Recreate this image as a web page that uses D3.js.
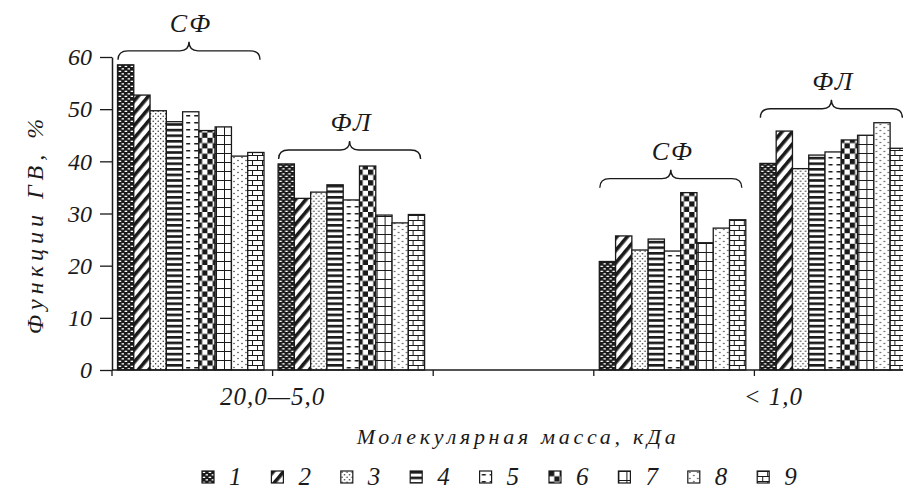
<!DOCTYPE html>
<html>
<head>
<meta charset="utf-8">
<script src="https://cdn.jsdelivr.net/npm/d3@7"></script>
<style>
  html, body { margin: 0; padding: 0; background: #fff; }
  svg { display: block; }
  text { font-family: "Liberation Serif", "Times New Roman", Times; font-style: italic; fill: #1a1a1a; }
</style>
</head>
<body>
<svg id="chart" width="903" height="489"></svg>
<script>
// Series (samples 1–9) and the two fractions per molecular-mass range
const seriesNames = ["1", "2", "3", "4", "5", "6", "7", "8", "9"];
const fractionNames = ["СФ", "ФЛ"];
const massLabels = ["20,0—5,0", "< 1,0"];

// Share of humic substances, %
const sf_20_5 = [58.5, 52.7, 49.7, 47.6, 49.5, 45.9, 46.6, 41.0, 41.7];
const fl_20_5 = [39.5, 32.9, 34.1, 35.5, 32.6, 39.1, 29.7, 28.2, 29.8];
const sf_lt1  = [20.8, 25.7, 23.0, 25.1, 22.8, 34.0, 24.4, 27.2, 28.8];
const fl_lt1  = [39.6, 45.8, 38.6, 41.2, 41.8, 44.1, 45.0, 47.4, 42.5];

const yTicks = [0, 10, 20, 30, 40, 50, 60];
const yTitle = "Функции ГВ, %";
const xTitle = "Молекулярная масса, кДа";

// Five slots along the x axis: two per mass range with an empty slot between
const groups = [
  { slot: 0, mass: 0, frac: 0, values: sf_20_5 },
  { slot: 1, mass: 0, frac: 1, values: fl_20_5 },
  { slot: 3, mass: 1, frac: 0, values: sf_lt1 },
  { slot: 4, mass: 1, frac: 1, values: fl_lt1 }
];

const svg = d3.select("#chart");
const ink = "#1a1a1a";
const serifFont = '"Liberation Serif", "Times New Roman", Times';

// ---- fill patterns ----
const defs = svg.append("defs");
function pat(id, w, h, build, transform) {
  const p = defs.append("pattern").attr("id", id)
    .attr("patternUnits", "userSpaceOnUse").attr("width", w).attr("height", h);
  if (transform) p.attr("patternTransform", transform);
  build(p);
}
// 1: dark with small light dashes
pat("p1", 6, 5, p => {
  p.append("rect").attr("width", 6).attr("height", 5).attr("fill", ink);
  p.append("rect").attr("x", 0.6).attr("y", 0.7).attr("width", 2.6).attr("height", 1.3).attr("fill", "#fff");
  p.append("rect").attr("x", 3.6).attr("y", 3.2).attr("width", 2.6).attr("height", 1.3).attr("fill", "#fff");
});
// 2: wide upward diagonal
pat("p2", 8, 8, p => {
  p.append("rect").attr("width", 8).attr("height", 8).attr("fill", "#fff");
  p.append("rect").attr("width", 3.6).attr("height", 8).attr("fill", ink);
}, "rotate(40)");
// 3: scattered dots
pat("p3", 5, 5, p => {
  p.append("rect").attr("width", 5).attr("height", 5).attr("fill", "#fff");
  p.append("circle").attr("cx", 1.2).attr("cy", 1.2).attr("r", 0.7).attr("fill", ink);
  p.append("circle").attr("cx", 3.7).attr("cy", 3.7).attr("r", 0.7).attr("fill", ink);
});
// 4: wide horizontal lines
pat("p4", 6, 5.6, p => {
  p.append("rect").attr("width", 6).attr("height", 5.6).attr("fill", "#fff");
  p.append("rect").attr("y", 0).attr("width", 6).attr("height", 2.6).attr("fill", ink);
});
// 5: short horizontal dashes
pat("p5", 8, 7, p => {
  p.append("rect").attr("width", 8).attr("height", 7).attr("fill", "#fff");
  p.append("rect").attr("x", 2.2).attr("y", 3).attr("width", 4).attr("height", 1.5).attr("fill", ink);
});
// 6: large checkerboard
pat("p6", 10.6, 10.6, p => {
  p.append("rect").attr("width", 10.6).attr("height", 10.6).attr("fill", "#fff");
  p.append("rect").attr("width", 5.3).attr("height", 5.3).attr("fill", ink);
  p.append("rect").attr("x", 5.3).attr("y", 5.3).attr("width", 5.3).attr("height", 5.3).attr("fill", ink);
});
// 7: large grid
pat("p7", 8, 9, p => {
  p.append("rect").attr("width", 8).attr("height", 9).attr("fill", "#fff");
  p.append("rect").attr("x", 0).attr("width", 1).attr("height", 9).attr("fill", ink);
  p.append("rect").attr("y", 0).attr("width", 8).attr("height", 1).attr("fill", ink);
});
// 8: sparse dots
pat("p8", 8, 6, p => {
  p.append("rect").attr("width", 8).attr("height", 6).attr("fill", "#fff");
  p.append("circle").attr("cx", 2).attr("cy", 1.5).attr("r", 0.7).attr("fill", ink);
  p.append("circle").attr("cx", 6).attr("cy", 4.5).attr("r", 0.7).attr("fill", ink);
});
// 9: horizontal bricks
pat("p9", 10, 10, p => {
  p.append("rect").attr("width", 10).attr("height", 10).attr("fill", "#fff");
  p.append("rect").attr("y", 0).attr("width", 10).attr("height", 1).attr("fill", ink);
  p.append("rect").attr("y", 5).attr("width", 10).attr("height", 1).attr("fill", ink);
  p.append("rect").attr("x", 0).attr("y", 0).attr("width", 1).attr("height", 5).attr("fill", ink);
  p.append("rect").attr("x", 5).attr("y", 5).attr("width", 1).attr("height", 5).attr("fill", ink);
});
const fillFor = (i) => `url(#p${i + 1})`;

// ---- scales ----
const plotLeft = 112, plotRight = 915, plotTop = 57, plotBottom = 370;
const y = d3.scaleLinear().domain([0, 60]).range([plotBottom, plotTop]);
const xSlot = d3.scaleBand().domain(d3.range(5)).range([plotLeft, plotRight]).padding(0);
const xSeries = d3.scaleBand().domain(seriesNames).range([5.5, 152]).padding(0);

// ---- bars ----
const gBars = svg.append("g");
groups.forEach(g => {
  gBars.append("g")
    .attr("transform", `translate(${xSlot(g.slot)},0)`)
    .selectAll("rect")
    .data(g.values)
    .join("rect")
    .attr("x", (d, i) => xSeries(seriesNames[i]))
    .attr("y", d => y(d))
    .attr("width", xSeries.bandwidth())
    .attr("height", d => y(0) - y(d))
    .attr("fill", (d, i) => fillFor(i))
    .attr("stroke", ink)
    .attr("stroke-width", 1.3);
});

// ---- braces with fraction labels ----
function bracePath(x0, x1, yEnd) {
  const xm = (x0 + x1) / 2, yl = yEnd - 9, yt = yEnd - 18;
  return `M${x0},${yEnd} Q${x0},${yl} ${x0 + 10},${yl} L${xm - 9},${yl} Q${xm},${yl} ${xm},${yt}` +
         ` Q${xm},${yl} ${xm + 9},${yl} L${x1 - 10},${yl} Q${x1},${yl} ${x1},${yEnd}`;
}
groups.forEach(g => {
  const left = xSlot(g.slot) + xSeries.range()[0] + 0.5;
  const right = xSlot(g.slot) + xSeries.range()[1] - 4;
  const yEnd = y(d3.max(g.values)) - 5;
  svg.append("path")
    .attr("d", bracePath(left, right, yEnd))
    .attr("fill", "none").attr("stroke", ink).attr("stroke-width", 1.4);
  svg.append("text")
    .attr("x", (left + right) / 2 + 2).attr("y", yEnd - 28)
    .attr("text-anchor", "middle")
    .style("font-size", "26px").style("letter-spacing", "2px")
    .text(fractionNames[g.frac]);
});

// ---- y axis ----
const yAxis = d3.axisLeft(y).tickValues(yTicks).tickSize(12).tickPadding(8).tickSizeOuter(0);
const gy = svg.append("g").attr("transform", `translate(${plotLeft},0)`).call(yAxis);
gy.select(".domain").attr("stroke", ink).attr("stroke-width", 1.5);
gy.selectAll(".tick line").attr("stroke", ink).attr("stroke-width", 1.3);
gy.selectAll(".tick text")
  .attr("fill", ink)
  .style("font-family", serifFont).style("font-style", "italic")
  .style("font-size", "24px");

// ---- x axis: baseline and slot boundary ticks ----
svg.append("line")
  .attr("x1", plotLeft).attr("x2", 903).attr("y1", y(0)).attr("y2", y(0))
  .attr("stroke", ink).attr("stroke-width", 1.5);
const boundaries = xSlot.domain().map(s => xSlot(s)).concat([plotRight]);
svg.append("g").selectAll("line")
  .data(boundaries)
  .join("line")
  .attr("x1", d => d).attr("x2", d => d)
  .attr("y1", y(0)).attr("y2", y(0) + 6)
  .attr("stroke", ink).attr("stroke-width", 1.3);

// Mass-range labels sit under the boundary between the СФ and ФЛ slots
const massOffsets = [0, 19];
massLabels.forEach((label, m) => {
  const sf = groups.find(g => g.mass === m && g.frac === 0);
  svg.append("text")
    .attr("x", xSlot(sf.slot) + xSlot.bandwidth() + massOffsets[m])
    .attr("y", 405)
    .attr("text-anchor", "middle")
    .style("font-size", "25px").style("letter-spacing", "1px")
    .text(label);
});

// ---- axis titles ----
svg.append("text")
  .attr("x", 518).attr("y", 444)
  .attr("text-anchor", "middle")
  .style("font-size", "22px").style("letter-spacing", "3.7px")
  .text(xTitle);
svg.append("text")
  .attr("transform", "translate(43,224) rotate(-90)")
  .attr("text-anchor", "middle")
  .style("font-size", "24px").style("letter-spacing", "5px")
  .text(yTitle);

// ---- legend ----
const legend = svg.append("g").attr("transform", "translate(202,471)");
const item = legend.selectAll("g")
  .data(seriesNames)
  .join("g")
  .attr("transform", (d, i) => `translate(${i * 69.4},0)`);
item.append("rect")
  .attr("width", 12).attr("height", 12)
  .attr("fill", (d, i) => fillFor(i))
  .attr("stroke", ink).attr("stroke-width", 1.2);
item.append("text")
  .attr("x", 27).attr("y", 14)
  .style("font-size", "25px")
  .text(d => d);
</script>
</body>
</html>
